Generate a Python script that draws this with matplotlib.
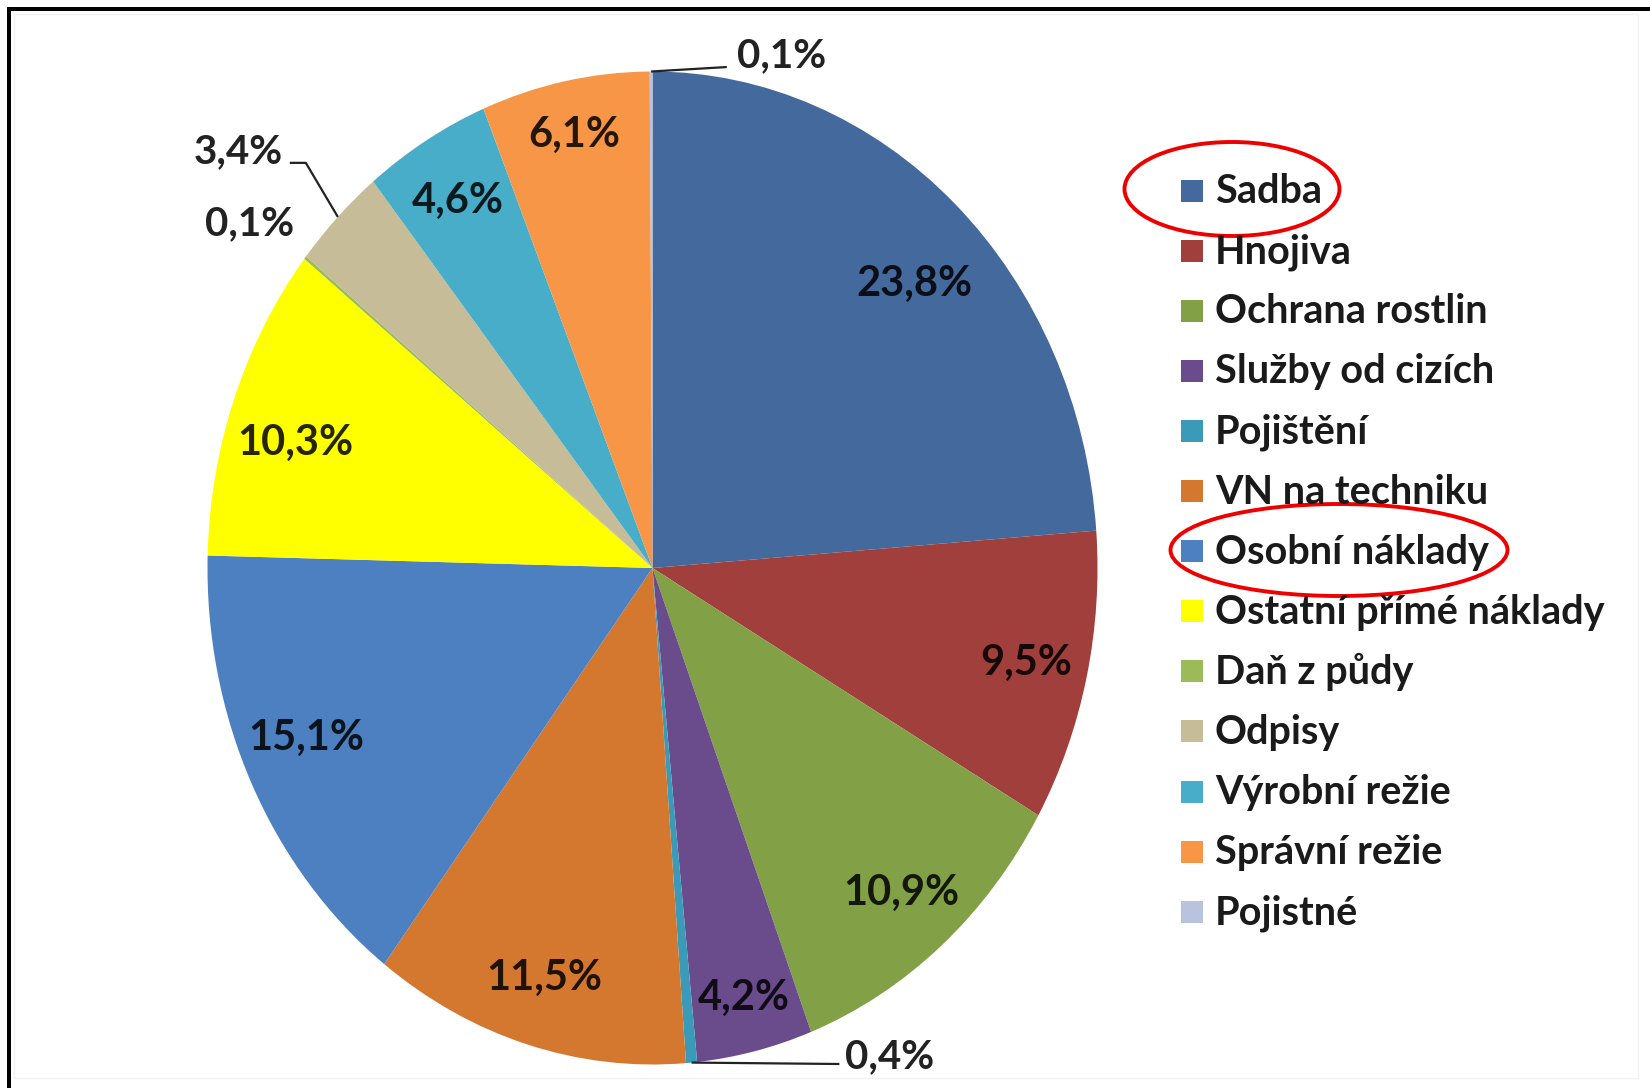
import matplotlib
matplotlib.use("Agg")
import matplotlib.pyplot as plt
from matplotlib.patches import Rectangle, Ellipse
import numpy as np

# -----------------------------
# DATA
# -----------------------------

categories = ["Sadba", "Hnojiva", "Ochrana rostlin", "Služby od cizích", "Pojištění",
              "VN na techniku", "Osobní náklady", "Ostatní přímé náklady", "Daň z půdy",
              "Odpisy", "Výrobní režie", "Správní režie", "Pojistné"]
shares = [23.8, 9.5, 10.9, 4.2, 0.4, 11.5, 15.1, 10.3, 0.1, 3.4, 4.6, 6.1, 0.1]
colors = ["#44699d", "#a03f3c", "#82a046", "#6a4c8c", "#3b9ab8", "#d4782f", "#4c80c0",
          "#ffff00", "#9bbb59", "#c6bd98", "#47adc9", "#f79646", "#b8c4de"]
highlighted = ["Sadba", "Osobní náklady"]

# -----------------------------
# LAYOUT (pixels)
# -----------------------------

W, H = 1650, 1088
CX, CY = 652.5, 568      # pie centre
RX, RY = 445, 496.5      # pie is drawn slightly stretched vertically

plt.rcParams['font.family'] = ['Lato', 'DejaVu Sans']
plt.rcParams['font.weight'] = 'bold'

fig = plt.figure(figsize=(W / 100, H / 100), dpi=100)
fig.patch.set_facecolor("white")

ax = fig.add_axes([0, 0, 1, 1])
wedges, _ = ax.pie(shares, colors=colors, startangle=90, counterclock=False,
                   radius=1, wedgeprops=dict(linewidth=0))
ax.set_aspect('auto')
ax.set_xlim(-CX / RX, (W - CX) / RX)
ax.set_ylim(-(H - CY) / RY, CY / RY)
ax.axis('off')

# -----------------------------
# PERCENT LABELS
# -----------------------------

def pct(v):
    return f"{v:.1f}%".replace(".", ",")

# radius / angle tweaks for the labels inside the slices
nudge = {"Sadba": (0.82, -3), "Osobní náklady": (0.85, -2), "Ostatní přímé náklady": (0.84, 2.6),
         "Služby od cizích": (0.89, 0), "Správní režie": (0.89, 0)}

# labels outside the pie: text x, y, ha, va, leader points (after the edge point)
outside = {
    "Pojistné": (0.19, 1.009, "left", "baseline", [(0.167, 1.009)]),
    "Pojištění": (0.433, -1.007, "left", "baseline", [(0.42, -0.999)]),
    "Daň z půdy": (-0.905, 0.693, "center", "center", []),
    "Odpisy": (-0.831, 0.838, "right", "center", [(-0.779, 0.816), (-0.815, 0.816)]),
}

for w, v, name in zip(wedges, shares, categories):
    mid = (w.theta1 + w.theta2) / 2
    if name in outside:
        tx, ty, ha, va, pts = outside[name]
        if pts:
            ex, ey = np.cos(np.deg2rad(mid)), np.sin(np.deg2rad(mid))
            xs = [ex] + [p[0] for p in pts]
            ys = [ey] + [p[1] for p in pts]
            ax.plot(xs, ys, color="#222222", lw=1.6, solid_capstyle="butt")
        ax.text(tx, ty, pct(v), ha=ha, va=va, fontsize=29, color="#222222")
    else:
        r, da = nudge.get(name, (0.86, 0))
        a = np.deg2rad(mid + da)
        ax.text(r * np.cos(a), r * np.sin(a), pct(v), ha="center", va="center",
                fontsize=30, color="black", alpha=0.85)

# -----------------------------
# LEGEND + FRAME (overlay in pixel coordinates)
# -----------------------------

ov = fig.add_axes([0, 0, 1, 1], zorder=3)
ov.set_xlim(0, W)
ov.set_ylim(H, 0)
ov.axis('off')
ov.patch.set_alpha(0)

row0, pitch, sq = 190.5, 60.1, 22
for i, (name, c) in enumerate(zip(categories, colors)):
    yc = row0 + i * pitch
    ov.add_patch(Rectangle((1181, yc - sq / 2), sq, sq, facecolor=c, edgecolor="none"))
    ov.text(1215, yc + 12.5, name, ha="left", va="baseline", fontsize=28.5, color="#1a1a1a")

# red highlight ellipses
ov.add_patch(Ellipse((1232, 189), 215, 94, fill=False, edgecolor="#ee0000", lw=2.8))
ov.add_patch(Ellipse((1339, 550), 337, 92, fill=False, edgecolor="#ee0000", lw=2.8))

# frame: thick black top/left, faint chart border
ov.add_patch(Rectangle((14, 14), 1624, 1064, fill=False, edgecolor="#f2f2f2", lw=1))
ov.add_patch(Rectangle((7, 7), W - 7, 4, facecolor="black", edgecolor="none"))
ov.add_patch(Rectangle((7, 7), 4, H - 7, facecolor="black", edgecolor="none"))

fig.savefig("out.png", dpi=100)
